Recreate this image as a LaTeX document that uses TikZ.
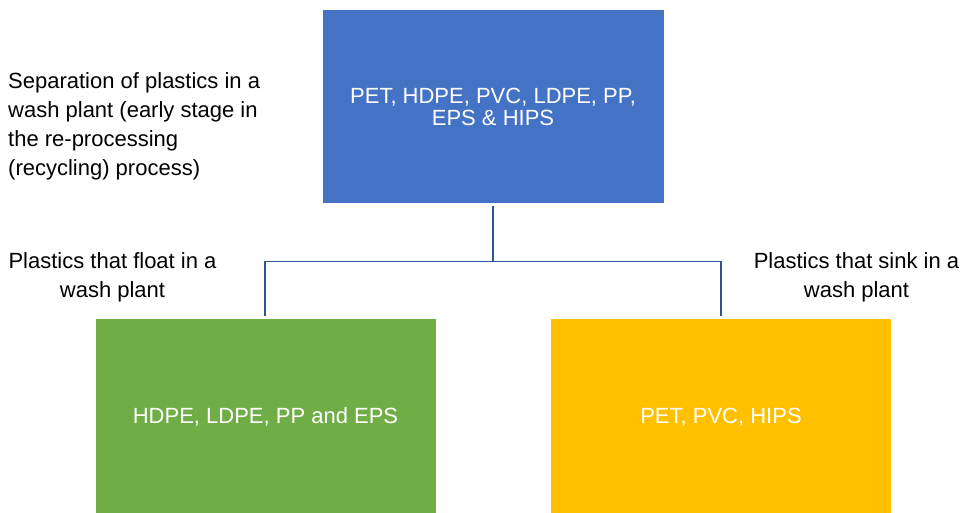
\documentclass[tikz,border=0pt]{standalone}
\usepackage{fontspec}
\setmainfont{Liberation Sans}
\definecolor{boxblue}{HTML}{4472C4}
\definecolor{boxgreen}{HTML}{70AD47}
\definecolor{boxyellow}{HTML}{FFC000}
\definecolor{linkblue}{HTML}{2F5597}
\begin{document}
\begin{tikzpicture}[x=1pt,y=-1pt,
  box/.style={draw=white,line width=1pt,inner sep=0pt,text=white,align=center,
    font=\fontsize{22}{22.5}\selectfont},
  lbl/.style={inner sep=0pt,text=black,font=\fontsize{22}{29}\selectfont},
  link/.style={draw=linkblue,line width=1.6pt}]
\useasboundingbox (0,0) rectangle (962,513);
\fill[white] (0,0) rectangle (962,513);
\node[box,fill=boxblue,minimum width=342pt,minimum height=194pt] (top) at (493,107)
  {PET, HDPE, PVC, LDPE, PP,\\EPS \& HIPS};
\node[box,fill=boxgreen,minimum width=341pt,minimum height=196pt] (green) at (265.5,417)
  {HDPE, LDPE, PP and EPS};
\node[box,fill=boxyellow,minimum width=341pt,minimum height=196pt] (yellow) at (721,417)
  {PET, PVC, HIPS};
\node[lbl,anchor=north west,align=left] (sep) at (8,72)
  {Separation of plastics in a\\wash plant (early stage in\\the re-processing\\(recycling) process)};
\node[lbl,anchor=north,align=center] (float) at (112.5,252.5)
  {Plastics that float in a\\wash plant};
\node[lbl,anchor=north,align=center] (sink) at (856.5,252.5)
  {Plastics that sink in a\\wash plant};
\coordinate (mid) at (493,261.5);
\draw[link,shorten <=2pt] (top.south) -- (mid);
\draw[link,shorten >=2pt] (mid) -| (green.north -| 265,0);
\draw[link,shorten >=2pt] (mid) -| (yellow.north);
\end{tikzpicture}
\end{document}
